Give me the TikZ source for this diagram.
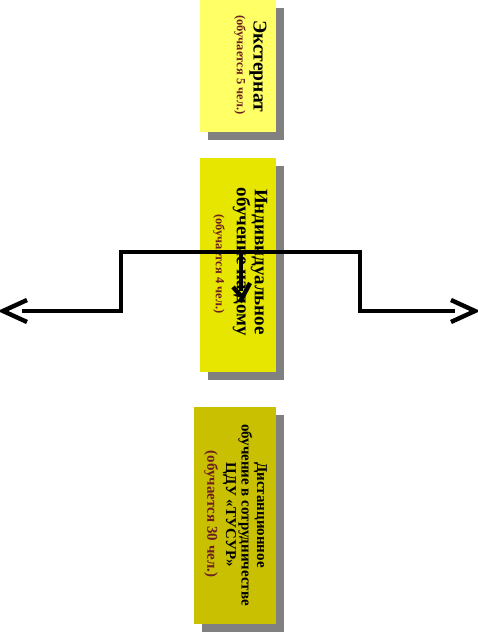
\documentclass[tikz,border=0pt]{standalone}
\usepackage{fontspec}
\setmainfont{Liberation Serif}
\definecolor{boxA}{RGB}{255,255,102}
\definecolor{boxB}{RGB}{230,230,0}
\definecolor{boxC}{RGB}{200,192,0}
\definecolor{shade}{RGB}{128,128,128}
\definecolor{brownt}{RGB}{110,32,32}
\begin{document}
\begin{tikzpicture}[x=1pt,y=-1pt,
  shadowbox/.style={draw=none,fill=shade,inner sep=0pt},
  box/.style={draw=none,inner sep=0pt},
  label/.style={rotate=-90,align=center,inner sep=0pt},
  conn/.style={line width=4.4pt,line join=miter,line cap=butt}]
\useasboundingbox (0,0) rectangle (478,636);
% shadows
\node[shadowbox,minimum width=76pt,minimum height=132pt] (s1) at (246,74) {};
\node[shadowbox,minimum width=76pt,minimum height=214pt] (s2) at (246,273) {};
\node[shadowbox,minimum width=82pt,minimum height=217pt] (s3) at (243,523.5) {};
% boxes
\node[box,fill=boxA,minimum width=76pt,minimum height=132pt] (b1) at (238,66) {};
\node[box,fill=boxB,minimum width=76pt,minimum height=214pt] (b2) at (238,265) {};
\node[box,fill=boxC,minimum width=82pt,minimum height=217pt] (b3) at (235,515.5) {};
% texts
\node[label,font=\bfseries\fontsize{19.5}{20}\selectfont] (t1a) at (258,66) {Экстернат};
\node[label,font=\bfseries\fontsize{12.5}{13}\selectfont,text=brownt] (t1b) at (240,65) {(обучается 5 чел.)};
\node[label,font=\bfseries\fontsize{19}{18}\selectfont] (t2a) at (250,262) {Индивидуальное\\обучение на дому};
\node[label,font=\bfseries\fontsize{12.5}{13}\selectfont,text=brownt] (t2b) at (219,264) {(обучается 4 чел.)};
\node[label,font=\bfseries\fontsize{15}{15.5}\selectfont] (t3a) at (245,515) {Дистанционное\\обучение в сотрудничестве\\ЦДУ «ТУСУР»};
\node[label,font=\bfseries\fontsize{15}{15.5}\selectfont,text=brownt] (t3b) at (211,514) {(обучается 30 чел.)};
% connector
\coordinate (p0) at (22,311);
\coordinate (p1) at (121,311);
\coordinate (p2) at (121,252);
\coordinate (p3) at (360,252);
\coordinate (p4) at (360,311);
\coordinate (p5) at (455,311);
\draw[conn] (p0) -- (p1) -- (p2) -- (p3) -- (p4) -- (p5);
% left arrow head
\coordinate (lt) at (3,311);
\coordinate (la) at (27,300);
\coordinate (lb) at (27,322);
\draw[conn] (la) -- (lt) -- (lb);
% right arrow head
\coordinate (rt) at (475,311);
\coordinate (ra) at (451,300);
\coordinate (rb) at (451,322);
\draw[conn] (ra) -- (rt) -- (rb);
% middle arrow
\coordinate (m0) at (241,252);
\coordinate (m1) at (241,291);
\draw[conn] (m0) -- (m1);
\coordinate (mt) at (240,302);
\coordinate (ma) at (233,287);
\coordinate (mb) at (250,283);
\coordinate (mc) at (241,296);
\draw[conn] (ma) -- (mc);
\draw[conn] (mb) -- (mt);
\end{tikzpicture}
\end{document}
